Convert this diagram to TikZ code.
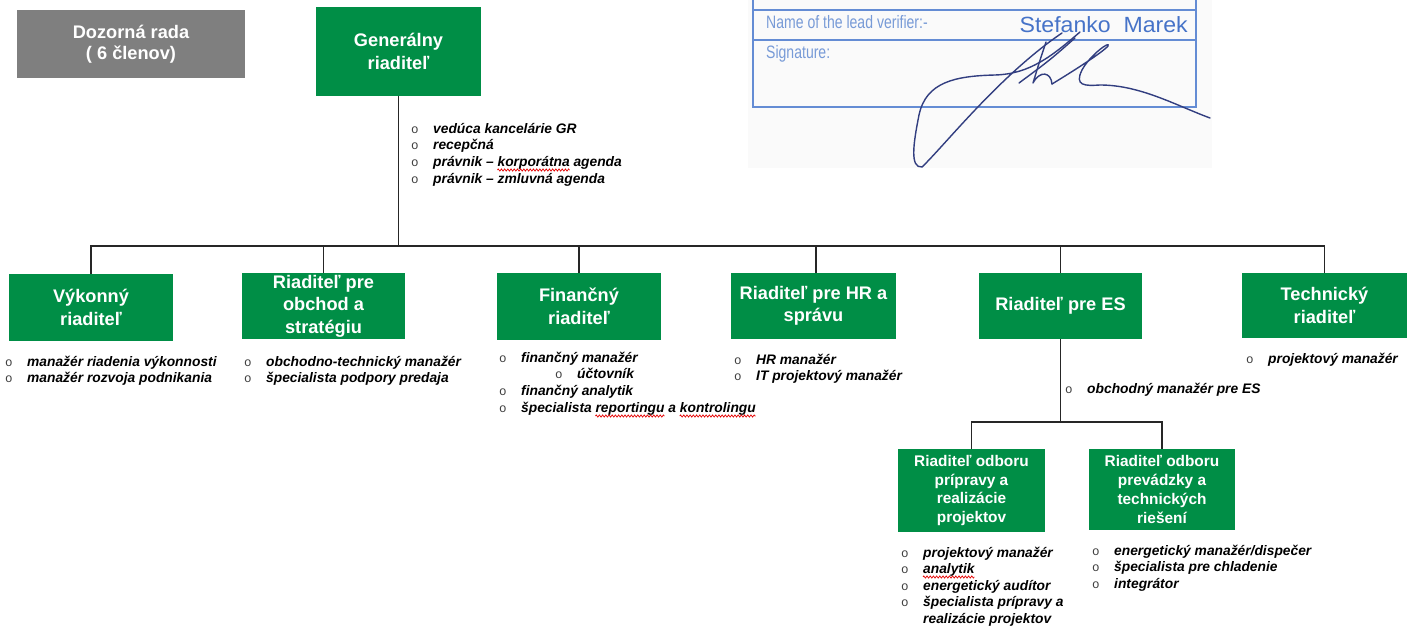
\documentclass[tikz,border=0pt]{standalone}
\usepackage{fontspec}
\setmainfont{Liberation Sans}
\newfontfamily\bulfont{Liberation Mono}
\usepackage{graphicx}
\usetikzlibrary{decorations.pathmorphing}
\definecolor{boxgreen}{RGB}{0,142,70}
\definecolor{boxgray}{RGB}{127,127,127}
\definecolor{stampblue}{RGB}{100,140,212}
\definecolor{stamptext}{RGB}{120,155,215}
\definecolor{namecol}{RGB}{70,115,200}
\definecolor{sigcol}{RGB}{50,62,128}
\newcommand\lstfont{\bfseries\itshape\fontsize{13.8}{16.8}\selectfont}
\newcommand\bul{\llap{\makebox[22pt][l]{\bulfont\mdseries\upshape\fontsize{12.5}{12.5}\selectfont\color{black!75}o}}}
\newcommand\li[1]{\hbox{\bul#1}}
\newcommand\lx[1]{\hbox{#1}}
\newlength\wA \newlength\wB \newlength\wC \newlength\wD \newlength\wE \newlength\wF \newlength\wG
\tikzset{
  orgbox/.style={fill=boxgreen, text=white, align=center, inner sep=0pt,
    font=\bfseries\fontsize{18.2}{22.5}\selectfont},
  subbox/.style={orgbox, font=\bfseries\fontsize{15.4}{18.7}\selectfont},
  graybox/.style={orgbox, fill=boxgray, font=\bfseries\fontsize{18.2}{20.5}\selectfont},
  lst/.style={inner sep=0pt, anchor=base west, font=\lstfont},
  conn/.style={draw=black!85, line width=1.2pt},
  stamp/.style={draw=stampblue, line width=1.5pt},
  stamptxt/.style={inner sep=0pt, text=stamptext, font=\fontsize{18}{18}\selectfont},
  sig/.style={draw=sigcol, line width=1.4pt, line cap=round, line join=round},
  wave/.style={draw=red!90!black, line width=0.7pt, decorate, decoration={zigzag, amplitude=1.1pt, segment length=3.2pt}}
}
\begin{document}
\settowidth\wA{\lstfont právnik – }
\settowidth\wB{\lstfont korporátna}
\settowidth\wC{\lstfont špecialista }
\settowidth\wD{\lstfont reportingu}
\settowidth\wE{\lstfont špecialista reportingu a }
\settowidth\wF{\lstfont kontrolingu}
\settowidth\wG{\lstfont analytik}
\begin{tikzpicture}[x=1pt,y=-1pt]
\useasboundingbox[fill=white] (0,0) rectangle (1416,626);
% stamp
\fill[black!2] (748,0) rectangle (1212,168);
\draw[stamp] (753,0) -- (753,107) -- (1196,107) -- (1196,0);
\draw[stamp] (753,10) -- (1196,10);
\draw[stamp] (753,40) -- (1196,40);
\node[stamptxt, anchor=base west] (nm) at (766,29) {\scalebox{0.78}[1]{Name of the lead verifier:-}};
\node[stamptxt, anchor=base west] (sg) at (766,59) {\scalebox{0.78}[1]{Signature:}};
\node[inner sep=0pt, anchor=base east, text=namecol, font=\fontsize{22}{22}\selectfont] (ver) at (1188,33) {\scalebox{1.05}[1]{Stefanko\ \ Marek}};
\draw[sig] (1080,32) .. controls (1052,56) and (1030,74) .. (995,75) .. controls (955,76) and (926,82) .. (919,115) .. controls (913,145) and (910,168) .. (922,167) .. controls (945,145) and (1000,75) .. (1062,33);
\draw[sig] (1075,38) .. controls (1050,60) .. (1019,83);
\draw[sig] (1046,42) .. controls (1040,60) .. (1033,83) .. controls (1040,70) and (1051,72) .. (1052,84);
\draw[sig] (1052,84) .. controls (1075,70) and (1103,52) .. (1108,46) .. controls (1111,40) and (1090,55) .. (1082,70) .. controls (1074,86) and (1085,86) .. (1100,85) .. controls (1140,85) and (1175,105) .. (1210,118);
% boxes
\node[graybox, minimum width=228pt, minimum height=68pt] (dozor) at (131,44) {Dozorná rada\\( 6 členov)};
\node[orgbox, minimum width=165pt, minimum height=89pt] (gr) at (398.5,51.5) {Generálny\\riaditeľ};
\node[orgbox, minimum width=164pt, minimum height=67pt] (vyk) at (91,307.5) {Výkonný\\riaditeľ};
\node[orgbox, minimum width=163pt, minimum height=66pt] (obch) at (323.5,306) {Riaditeľ pre\\obchod a\\stratégiu};
\node[orgbox, minimum width=164pt, minimum height=67pt] (fin) at (579,306.5) {Finančný\\riaditeľ};
\node[orgbox, minimum width=165pt, minimum height=66pt] (hr) at (813.5,306) {Riaditeľ pre HR a\\správu};
\node[orgbox, minimum width=163pt, minimum height=66pt] (es) at (1060.5,306) {Riaditeľ pre ES};
\node[orgbox, minimum width=165pt, minimum height=65pt] (tech) at (1324.5,305.5) {Technický\\riaditeľ};
\node[subbox, minimum width=147pt, minimum height=83pt] (sub1) at (971.5,490.5) {Riaditeľ odboru\\prípravy a\\realizácie\\projektov};
\node[subbox, minimum width=146pt, minimum height=81pt] (sub2) at (1162,489.5) {Riaditeľ odboru\\prevádzky a\\technických\\riešení};
% connectors
\coordinate (bus) at (0,246);
\coordinate (subbus) at (0,422);
\draw[conn] (gr.south) -- (gr.south |- bus);
\draw[conn] (vyk.north) -- (vyk.north |- bus) -- (tech.north |- bus) -- (tech.north);
\draw[conn] (obch.north) -- (obch.north |- bus);
\draw[conn] (fin.north) -- (fin.north |- bus);
\draw[conn] ([xshift=2.5pt]hr.north) -- ([xshift=2.5pt]hr.north |- bus);
\draw[conn] (es.north) -- (es.north |- bus);
\draw[conn] (es.south) -- (es.south |- subbus);
\draw[conn] (sub1.north) -- (sub1.north |- subbus) -- (sub2.north |- subbus) -- (sub2.north);
% lists
\node[lst] (grl) at (433,133) {\vtop{\li{vedúca kancelárie GR}\li{recepčná}\li{právnik – korporátna agenda}\li{právnik – zmluvná agenda}}};
\node[lst] (vykl) at (27,366) {\vtop{\li{manažér riadenia výkonnosti}\li{manažér rozvoja podnikania}}};
\node[lst] (obchl) at (266,366) {\vtop{\li{obchodno-technický manažér}\li{špecialista podpory predaja}}};
\node[lst] (finl) at (521,362) {\vtop{\li{finančný manažér}\lx{\hspace{56pt}\bul účtovník}\li{finančný analytik}\li{špecialista reportingu a kontrolingu}}};
\node[lst] (hrl) at (756,364) {\vtop{\li{HR manažér}\li{IT projektový manažér}}};
\node[lst] (esl) at (1087,393) {\vtop{\li{obchodný manažér pre ES}}};
\node[lst] (techl) at (1268,363) {\vtop{\li{projektový manažér}}};
\node[lst] (sub1l) at (923,557) {\vtop{\baselineskip=16.5pt\li{projektový manažér}\li{analytik}\li{energetický audítor}\li{špecialista prípravy a}\lx{realizácie projektov}}};
\node[lst] (sub2l) at (1114,555) {\vtop{\li{energetický manažér/dispečer}\li{špecialista pre chladenie}\li{integrátor}}};
% spell-check marks
\draw[wave] ([xshift=\wA]grl.base west) ++(0,37) -- ++(\wB,0);
\draw[wave] ([xshift=\wC]finl.base west) ++(0,54) -- ++(\wD,0);
\draw[wave] ([xshift=\wE]finl.base west) ++(0,54) -- ++(\wF,0);
\draw[wave] (sub1l.base west) ++(0,20) -- ++(\wG,0);
\end{tikzpicture}
\end{document}
